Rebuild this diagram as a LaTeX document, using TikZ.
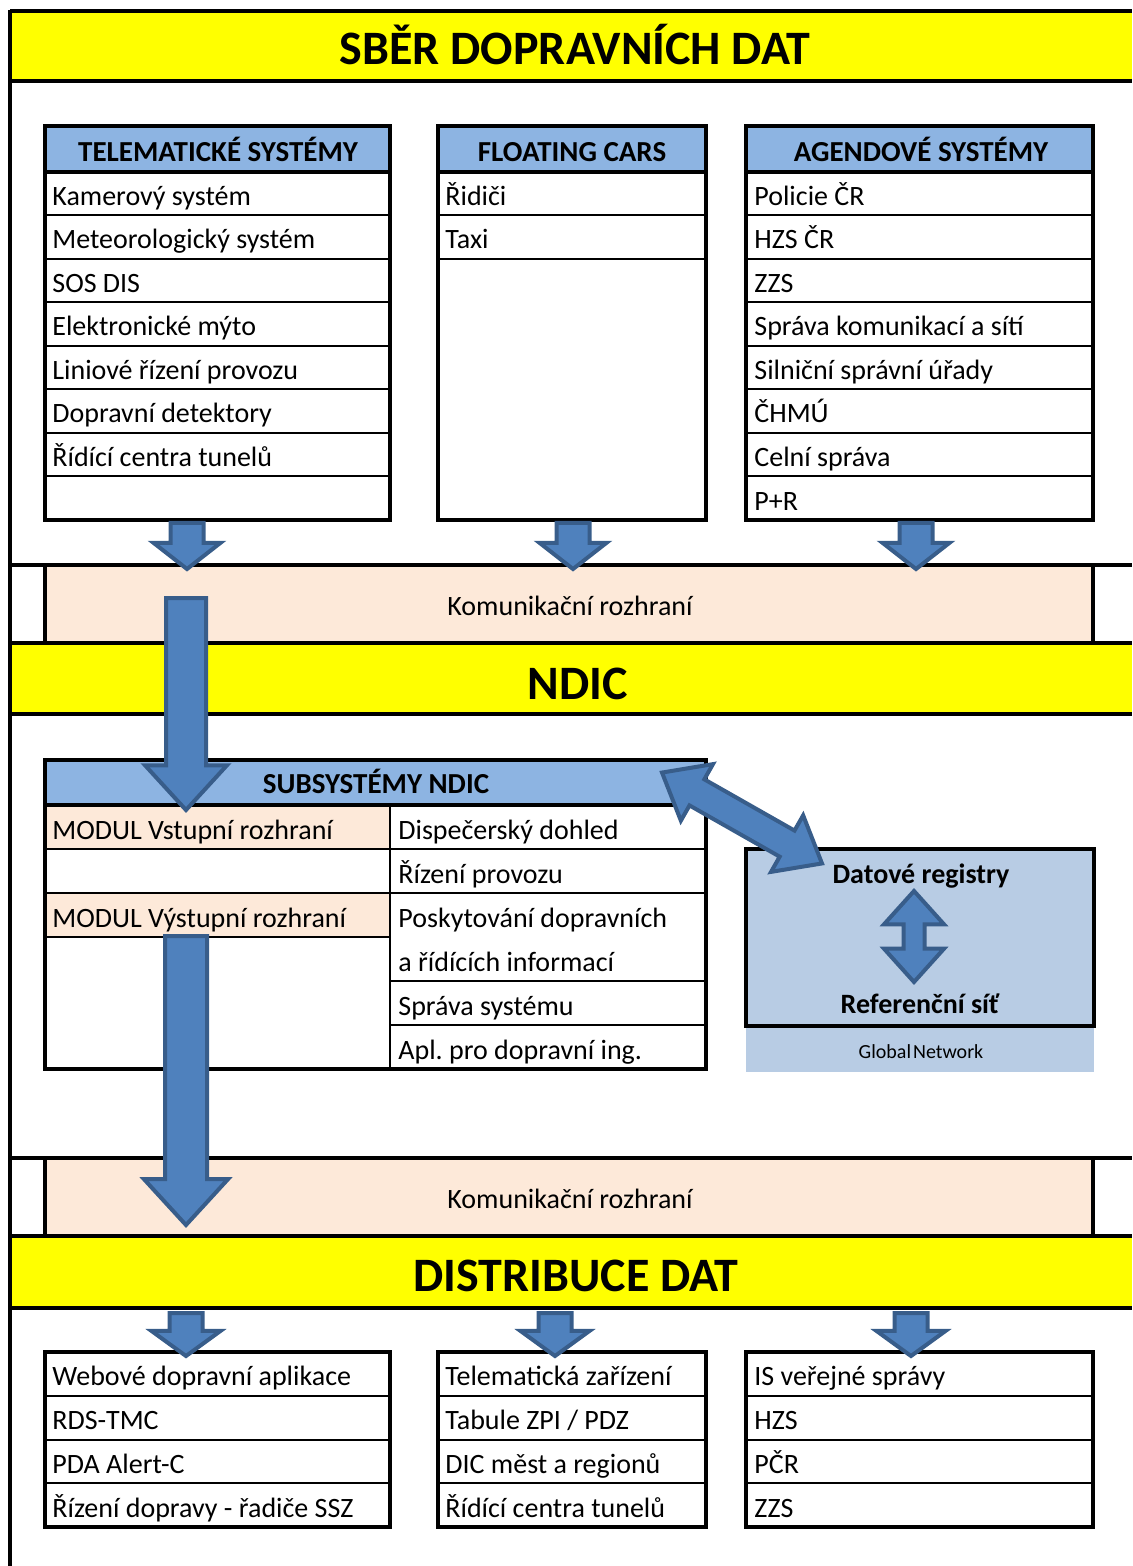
\documentclass[tikz,border=0pt]{standalone}
\usepackage{fontspec}
\setmainfont{Carlito}
\usetikzlibrary{shapes.arrows}
\frenchspacing

\definecolor{bandyellow}{HTML}{FFFF00}
\definecolor{hdrblue}{HTML}{8DB4E2}
\definecolor{peach}{HTML}{FDE9D9}
\definecolor{regblue}{HTML}{B8CCE4}
\definecolor{arrowfill}{HTML}{4F81BD}
\definecolor{arrowline}{HTML}{385D8A}

\tikzset{
  thickline/.style={line width=2pt},
  rowline/.style={line width=1pt},
  celltext/.style={anchor=base west, inner sep=0pt, font=\fontsize{14}{16}\selectfont},
  headtext/.style={anchor=base, inner sep=0pt, font=\bfseries\fontsize{14.5}{17}\selectfont},
  bandtext/.style={anchor=base, inner sep=0pt, font=\bfseries\fontsize{24}{28}\selectfont},
  blockarrow/.style={single arrow, draw=arrowline, fill=arrowfill, line width=2pt,
    inner xsep=0pt, rotate=-90, anchor=tail},
  twoarrow/.style={double arrow, draw=arrowline, fill=arrowfill, line width=2pt, inner xsep=0pt}
}

\begin{document}
\begin{tikzpicture}[x=0.5pt,y=-0.5pt]
  \useasboundingbox (0,0) rectangle (1132,1566);

  % bands and frame
  \fill[bandyellow] (10,11) rectangle (1132,81);
  \fill[bandyellow] (10,643) rectangle (1132,714);
  \fill[bandyellow] (10,1236) rectangle (1132,1308);
  \fill[peach] (45,565) rectangle (1093,643);
  \fill[peach] (45,1158) rectangle (1093,1236);
  \foreach \y in {11,81,565,643,714,1158,1236,1308}
    \draw[thickline] (10,\y) -- (1132,\y);
  \draw[thickline] (10,10) -- (10,1566);
  \foreach \y in {565,1158} {
    \draw[thickline] (45,\y) -- (45,{\y+78});
    \draw[thickline] (1093,\y) -- (1093,{\y+78});
  }
  \node[bandtext] (sber) at (575,65) {SBĚR DOPRAVNÍCH DAT};
  \node[bandtext] (ndic) at (578,699) {NDIC};
  \node[bandtext] (distr) at (576,1291) {DISTRIBUCE DAT};
  \node[celltext, anchor=base] (komIn) at (570,615) {Komunikační rozhraní};
  \node[celltext, anchor=base] (komOut) at (570,1208) {Komunikační rozhraní};

  % telematicke systemy
  \fill[hdrblue] (45,126) rectangle (390,172);
  \node[headtext] (telHead) at (218,162) {TELEMATICKÉ SYSTÉMY};
  \foreach \t [count=\i] in {Kamerový systém, Meteorologický systém, SOS DIS,
      Elektronické mýto, Liniové řízení provozu, Dopravní detektory, Řídící centra tunelů}
    \node[celltext] (tel\i) at (52,{172+43.5*\i-10}) {\t};
  \foreach \i in {1,...,7}
    \draw[rowline] (45,{172+43.5*\i}) -- (390,{172+43.5*\i});
  \draw[thickline] (45,172) -- (390,172);
  \draw[thickline] (45,126) rectangle (390,520);

  % floating cars
  \fill[hdrblue] (438,126) rectangle (706,172);
  \node[headtext] (fcdHead) at (572,162) {FLOATING CARS};
  \node[celltext] (fcd1) at (445,205.5) {Řidiči};
  \node[celltext] (fcd2) at (445,249) {Taxi};
  \draw[rowline] (438,215.5) -- (706,215.5);
  \draw[rowline] (438,259) -- (706,259);
  \draw[thickline] (438,172) -- (706,172);
  \draw[thickline] (438,126) rectangle (706,520);

  % agendove systemy
  \fill[hdrblue] (746,126) rectangle (1093,172);
  \node[headtext] (ageHead) at (921,162) {AGENDOVÉ SYSTÉMY};
  \foreach \t [count=\i] in {Policie ČR, HZS ČR, ZZS, Správa komunikací a sítí,
      Silniční správní úřady, ČHMÚ, Celní správa, P+R}
    \node[celltext] (age\i) at (754,{172+43.5*\i-10}) {\t};
  \foreach \i in {1,...,7}
    \draw[rowline] (746,{172+43.5*\i}) -- (1093,{172+43.5*\i});
  \draw[thickline] (746,172) -- (1093,172);
  \draw[thickline] (746,126) rectangle (1093,520);

  % subsystemy NDIC
  \fill[hdrblue] (45,760) rectangle (706,805);
  \fill[peach] (45,805) rectangle (390,849);
  \fill[peach] (45,893) rectangle (390,937);
  \node[headtext] (subHead) at (376,793) {SUBSYSTÉMY NDIC};
  \node[celltext] (modIn) at (52,839) {MODUL Vstupní rozhraní};
  \node[celltext] (modOut) at (52,927) {MODUL Výstupní rozhraní};
  \foreach \t [count=\i] in {Dispečerský dohled, Řízení provozu, Poskytování dopravních,
      a řídících informací, Správa systému, Apl. pro dopravní ing.}
    \node[celltext] (sub\i) at (398,{805+44*\i-10}) {\t};
  \foreach \y in {849,893,937}
    \draw[rowline] (45,\y) -- (390,\y);
  \foreach \y in {849,893,981,1025}
    \draw[rowline] (390,\y) -- (706,\y);
  \draw[rowline] (390,805) -- (390,1069);
  \draw[thickline] (45,805) -- (706,805);
  \draw[thickline] (45,760) rectangle (706,1069);

  % datove registry
  \fill[regblue] (746,849) rectangle (1094,1072);
  \draw[thickline] (746,849) rectangle (1094,1026);
  \node[headtext, font=\bfseries\fontsize{14}{17}\selectfont] (regTop) at (921,883) {Datové registry};
  \node[headtext, font=\bfseries\fontsize{14}{17}\selectfont] (regBot) at (920,1013) {Referenční síť};
  \node[anchor=base, inner sep=0pt, font=\fontsize{10}{12}\selectfont] (glob) at (921,1058) {Global\kern1pt Network};

  % distribuce
  \foreach \x/\r/\n in {45/390/web, 438/706/tel, 746/1093/ver} {
    \foreach \i in {1,2,3}
      \draw[rowline] (\x,{1352+43.75*\i}) -- (\r,{1352+43.75*\i});
    \draw[thickline] (\x,1352) rectangle (\r,1527);
  }
  \foreach \t [count=\i] in {Webové dopravní aplikace, RDS-TMC, PDA Alert-C, Řízení dopravy - řadiče SSZ}
    \node[celltext] (web\i) at (52,{1352+43.75*\i-10}) {\t};
  \foreach \t [count=\i] in {Telematická zařízení, Tabule ZPI / PDZ, DIC měst a regionů, Řídící centra tunelů}
    \node[celltext] (tz\i) at (445,{1352+43.75*\i-10}) {\t};
  \foreach \t [count=\i] in {IS veřejné správy, HZS, PČR, ZZS}
    \node[celltext] (isv\i) at (754,{1352+43.75*\i-10}) {\t};

  % block arrows
  \foreach \x/\n in {187/Tel, 573/Fcd, 916/Age}
    \node[blockarrow, minimum height=23pt, inner ysep=7.25pt,
      single arrow head extend=8.5pt, single arrow tip angle=104] (dn\n) at (\x,521) {};
  \foreach \x/\n in {186/Web, 555/Tz, 911/Isv}
    \node[blockarrow, minimum height=21.5pt, inner ysep=7.25pt,
      single arrow head extend=9pt, single arrow tip angle=108] (out\n) at (\x,1311) {};
  \node[blockarrow, minimum height=106pt, inner ysep=9pt,
    single arrow head extend=10.5pt, single arrow tip angle=85] (bigIn) at (186,596) {};
  \node[blockarrow, minimum height=144.5pt, inner ysep=9.5pt,
    single arrow head extend=10.5pt, single arrow tip angle=85] (bigOut) at (186,934) {};
  \node[twoarrow, rotate=-29.6, minimum height=92pt, inner ysep=6.5pt,
    double arrow head extend=8.75pt, double arrow tip angle=78] (dblReg) at (742,818) {};
  \node[twoarrow, rotate=90, minimum height=45.5pt, inner ysep=4.25pt,
    double arrow head extend=9.75pt, double arrow tip angle=84] (dblNet) at (914,936.5) {};
\end{tikzpicture}
\end{document}
